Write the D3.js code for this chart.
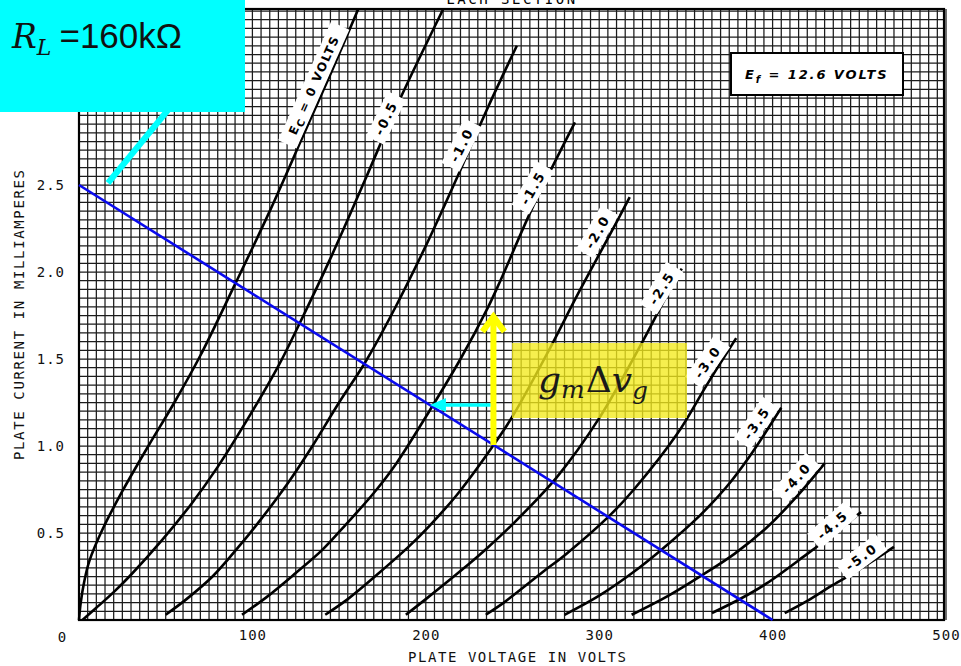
<!DOCTYPE html>
<html>
<head>
<meta charset="utf-8">
<script src="https://cdn.jsdelivr.net/npm/d3@7"></script>
<style>
  body { margin: 0; background: #fff; }
  svg { display: block; }
</style>
</head>
<body>
<svg id="chart" width="961" height="666"></svg>
<script>
// plate curves, [plate volts, plate mA]
var curveEc0  = [[0,0],[1,0.1],[3,0.22],[6,0.34],[14,0.53],[25,0.74],[40,1.0],[55,1.25],[70,1.52],[90,1.93],[110,2.35],[130,2.8],[146,3.16],[161,3.51]];
var curveEc05 = [[2,0],[10,0.07],[20,0.16],[30,0.26],[48,0.46],[65,0.67],[80,0.88],[100,1.2],[115,1.46],[127,1.7],[146,2.1],[165,2.53],[184.5,2.98],[210,3.51]];
var curveEc10 = [[50,0.03],[62,0.12],[77,0.25],[92,0.42],[105,0.58],[120,0.78],[134,0.99],[150,1.25],[165,1.48],[180,1.75],[200,2.15],[217,2.52],[236,2.95],[252.5,3.3]];
var curveEc15 = [[94,0.03],[108,0.13],[125,0.27],[140,0.4],[154,0.55],[170,0.73],[183,0.9],[202,1.2],[220,1.5],[236,1.8],[243,1.95],[262,2.38],[286,2.86]];
var curveEc20 = [[142,0.03],[155,0.12],[173,0.27],[190,0.42],[202,0.54],[218,0.72],[238,0.99],[250,1.17],[271.5,1.56],[287,1.86],[307,2.23],[317.6,2.43]];
var curveEc25 = [[188.5,0.03],[200,0.12],[221,0.29],[235,0.41],[250,0.55],[275.5,0.82],[300,1.16],[325,1.6],[336.6,1.82],[347.6,2.02]];
var curveEc30 = [[234.6,0.03],[245,0.1],[254,0.17],[268,0.28],[281,0.38],[306,0.6],[320,0.75],[345,1.07],[362,1.35],[379,1.62]];
var curveEc35 = [[280,0.03],[300,0.14],[319,0.27],[336.6,0.41],[358,0.6],[373,0.76],[386.7,0.94],[405,1.22]];
var curveEc40 = [[318.7,0.03],[340,0.14],[359.7,0.26],[378,0.38],[396.5,0.53],[414,0.71],[430,0.9]];
var curveEc45 = [[365,0.04],[382,0.125],[396.5,0.21],[420,0.38],[436,0.5],[451,0.62]];
var curveEc50 = [[407,0.04],[420,0.11],[434.6,0.2],[450,0.29],[470,0.42]];

var gridVolts = ["0", "-0.5", "-1.0", "-1.5", "-2.0", "-2.5", "-3.0", "-3.5", "-4.0", "-4.5", "-5.0"];
var curves = [curveEc0, curveEc05, curveEc10, curveEc15, curveEc20, curveEc25,
              curveEc30, curveEc35, curveEc40, curveEc45, curveEc50];

var xTicks = [100, 200, 300, 400, 500];
var yTicks = [0.5, 1.0, 1.5, 2.0, 2.5];

// load line for R_L = 160k, operating point on the -2.0 curve
var loadLine = [[0, 2.5], [400, 0]];
var opVolts = 239;
var stepTopMa = 1.755;   // where the -1.5 curve sits above the operating point
var stepMa = 1.235;      // height of the horizontal projection back onto the load line

// where each curve label sits (volts, mA) and its tilt
var labelSpots = [[135.4,3.075,-66],[177,2.885,-64],[220.7,2.73,-63],[261.7,2.483,-60],[299,2.23,-60],
                  [336,1.908,-58],[362.5,1.483,-55],[390.8,1.132,-55],[413.8,0.816,-48],[434.6,0.546,-41],[451.3,0.362,-37]];

var svg = d3.select("#chart");
var plotLeft = 79, plotRight = 946, plotTop = 11, plotBottom = 620;

var x = d3.scaleLinear().domain([0, 500]).range([plotLeft, plotRight]);
var y = d3.scaleLinear().domain([0, 3.5]).range([plotBottom, plotTop]);

svg.append("rect").attr("width", 961).attr("height", 666).attr("fill", "#fff");

// header, mostly cut off by the page edge
svg.append("text")
  .attr("x", 512).attr("y", 4)
  .attr("text-anchor", "middle")
  .style("font", "14px 'DejaVu Sans Mono'")
  .style("letter-spacing", "2.5px")
  .text("EACH SECTION");

// graph paper
var grid = svg.append("g").attr("stroke", "#1c1c1c").attr("stroke-width", 1.25);
grid.selectAll(".v").data(d3.range(0, 500.01, 5)).enter().append("line")
  .attr("x1", d => x(d)).attr("x2", d => x(d))
  .attr("y1", y(0)).attr("y2", y(3.5) - 2);
grid.selectAll(".h").data(d3.range(0, 3.5001, 0.05)).enter().append("line")
  .attr("x1", x(0)).attr("x2", x(500) - 2)
  .attr("y1", d => y(d)).attr("y2", d => y(d));

svg.append("rect")
  .attr("x", x(0)).attr("y", y(3.5) - 2)
  .attr("width", x(500) - 2 - x(0)).attr("height", y(0) - y(3.5) + 2)
  .attr("fill", "none").attr("stroke", "#000").attr("stroke-width", 2.2);

// axes
var axisFont = "14px 'DejaVu Sans Mono'";
var bottomAxis = d3.axisBottom(x).tickValues(xTicks).tickSize(0).tickPadding(10).tickFormat(d3.format("d"));
var leftAxis = d3.axisLeft(y).tickValues(yTicks).tickSize(0).tickPadding(14).tickFormat(d3.format(".1f"));

var xAxis = svg.append("g").attr("transform", `translate(0, ${y(0)})`).call(bottomAxis);
var yAxis = svg.append("g").attr("transform", `translate(${x(0)}, 0)`).call(leftAxis);
[xAxis, yAxis].forEach(function(a) {
  a.select(".domain").remove();
  a.selectAll("text").style("font", axisFont).style("letter-spacing", "1px").attr("fill", "#111");
});

svg.append("text")
  .attr("x", x(0) - 17).attr("y", y(0) + 22)
  .attr("text-anchor", "middle")
  .style("font", axisFont).attr("fill", "#111")
  .text("0");

svg.append("text")
  .attr("x", 408).attr("y", 662)
  .attr("textLength", 218).attr("lengthAdjust", "spacing")
  .style("font", axisFont).attr("fill", "#111")
  .text("PLATE VOLTAGE IN VOLTS");

svg.append("text")
  .attr("transform", "translate(24, 460) rotate(-90)")
  .attr("textLength", 290).attr("lengthAdjust", "spacing")
  .style("font", axisFont).attr("fill", "#111")
  .text("PLATE CURRENT IN MILLIAMPERES");

// plate curves
var line = d3.line()
  .x(d => x(d[0]))
  .y(d => y(d[1]))
  .curve(d3.curveCatmullRom.alpha(0.5));

svg.append("g").selectAll("path")
  .data(curves)
  .enter()
  .append("path")
  .attr("d", line)
  .attr("fill", "none")
  .attr("stroke", "#000")
  .attr("stroke-width", 2.6);

// curve labels on white tabs
var tags = svg.append("g").selectAll("g")
  .data(gridVolts)
  .enter()
  .append("g")
  .attr("transform", (d, i) => `translate(${x(labelSpots[i][0])}, ${y(labelSpots[i][1])}) rotate(${labelSpots[i][2]})`);

tags.append("rect")
  .attr("x", (d, i) => i === 0 ? -65 : -25)
  .attr("y", -10)
  .attr("width", (d, i) => i === 0 ? 130 : 50)
  .attr("height", 20)
  .attr("fill", "#fff");

tags.append("text")
  .attr("text-anchor", "middle")
  .attr("dy", "0.36em")
  .style("font", "bold 13px 'DejaVu Sans'")
  .style("letter-spacing", "2px")
  .attr("fill", "#000")
  .each(function(d, i) {
    var t = d3.select(this);
    if (i === 0) {
      t.style("font-size", "12px").style("letter-spacing", "1.6px");
      t.append("tspan").text("E");
      t.append("tspan").attr("font-size", 10).attr("dy", 3).text("C");
      t.append("tspan").attr("dy", -3).text(" = " + d + " VOLTS");
    } else {
      t.text(d);
    }
  });

// filament box
svg.append("rect")
  .attr("x", 731).attr("y", 53).attr("width", 172).attr("height", 42)
  .attr("fill", "#fff").attr("stroke", "#000").attr("stroke-width", 2);
var ef = svg.append("text")
  .attr("x", 745).attr("y", 79)
  .style("font", "italic bold 13px 'DejaVu Sans'")
  .style("letter-spacing", "1.9px")
  .attr("fill", "#000");
ef.append("tspan").text("E");
ef.append("tspan").attr("font-size", 10).attr("dy", 4).text("f");
ef.append("tspan").attr("dy", -4).text("  =  12.6  VOLTS");

// load line
svg.append("line")
  .attr("x1", x(loadLine[0][0])).attr("y1", y(loadLine[0][1]))
  .attr("x2", x(loadLine[1][0])).attr("y2", y(loadLine[1][1]))
  .attr("stroke", "#0a0aee").attr("stroke-width", 2.6);

// R_L callout
svg.append("line")
  .attr("x1", 108).attr("y1", 183).attr("x2", 168).attr("y2", 110)
  .attr("stroke", "#00ffff").attr("stroke-width", 6);
svg.append("rect")
  .attr("x", 0).attr("y", 0).attr("width", 245).attr("height", 112)
  .attr("fill", "#00ffff");
var rl = svg.append("text").attr("x", 12).attr("y", 48).attr("fill", "#111");
rl.append("tspan").style("font", "italic 33px 'DejaVu Serif'").text("R");
rl.append("tspan").style("font", "italic 22px 'DejaVu Serif'").attr("dy", 7).text("L");
rl.append("tspan").style("font", "35px 'Liberation Sans'").attr("dy", -7).attr("dx", 8).text("=160kΩ");

// g_m Δv_g box
svg.append("rect")
  .attr("x", 512).attr("y", 343).attr("width", 175).attr("height", 75)
  .attr("fill", "#f4ea1c").attr("fill-opacity", 0.78);
var gm = svg.append("text").attr("x", 538).attr("y", 392).attr("fill", "#1a1a1a");
gm.append("tspan").style("font", "italic 36px 'DejaVu Serif'").text("g");
gm.append("tspan").style("font", "italic 25px 'DejaVu Serif'").attr("dy", 6).text("m");
gm.append("tspan").style("font", "36px 'DejaVu Serif'").attr("dy", -6).attr("dx", 1).text("Δ");
gm.append("tspan").style("font", "italic 36px 'DejaVu Serif'").text("v");
gm.append("tspan").style("font", "italic 25px 'DejaVu Serif'").attr("dy", 7).text("g");

// yellow step from the -2.0 curve up to the -1.5 curve
var opMa = 2.5 * (1 - opVolts / 400);
var ax = x(opVolts), ay0 = y(opMa), ay1 = y(stepTopMa);
svg.append("line")
  .attr("x1", ax).attr("y1", ay0).attr("x2", ax).attr("y2", ay1 + 2)
  .attr("stroke", "#ffff00").attr("stroke-width", 6);
svg.append("path")
  .attr("d", `M${ax - 11},${ay1 + 17} L${ax},${ay1 + 2} L${ax + 11},${ay1 + 17}`)
  .attr("fill", "none").attr("stroke", "#ffff00").attr("stroke-width", 6);

// cyan projection back to the load line
var hitVolts = 400 * (1 - stepMa / 2.5);
var cy = y(stepMa);
svg.append("line")
  .attr("x1", ax - 3).attr("y1", cy).attr("x2", x(hitVolts) + 14).attr("y2", cy)
  .attr("stroke", "#00ffff").attr("stroke-width", 3.5);
svg.append("path")
  .attr("d", `M${x(hitVolts)},${cy} L${x(hitVolts) + 16},${cy - 7} L${x(hitVolts) + 16},${cy + 7} Z`)
  .attr("fill", "#00ffff");
</script>
</body>
</html>
